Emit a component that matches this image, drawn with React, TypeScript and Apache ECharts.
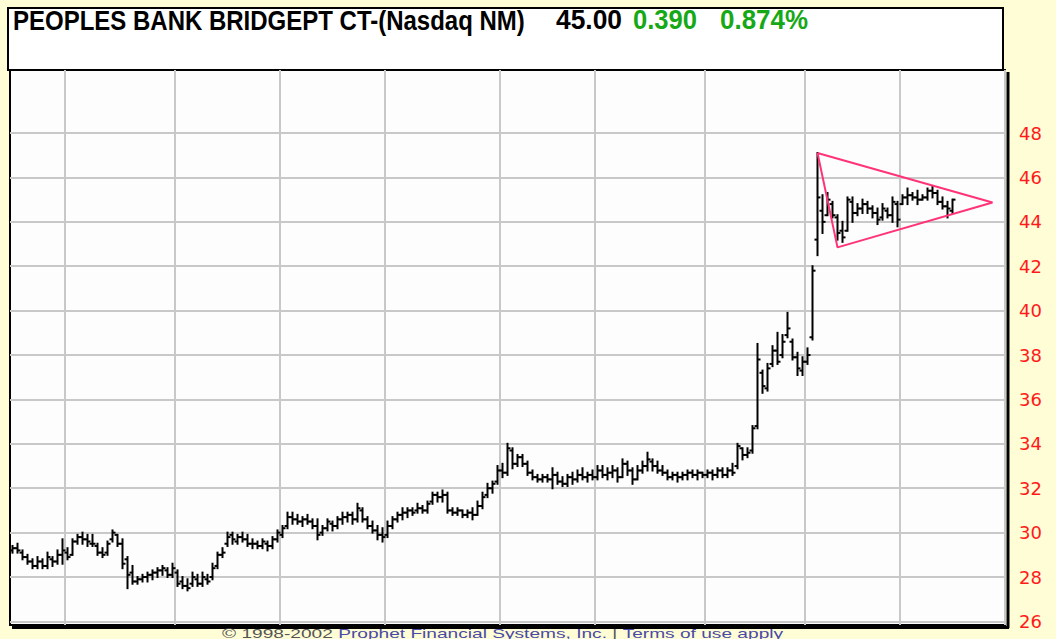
import React, { useEffect, useRef } from "react";
import * as echarts from "echarts";

// Daily OHLC bars (index = trading day)
const opens = [
  29.2, 29.3, 29.1, 28.9, 28.7, 28.5, 28.7, 28.5, 28.8, 28.7,
  29.0, 29.1, 29.0, 29.6, 29.8, 29.7, 29.5, 29.4, 29.1, 29.1,
  29.7, 29.9, 29.5, 28.8, 28.2, 27.8, 27.9, 28.0, 28.1, 28.2,
  28.3, 28.3, 28.1, 28.2, 27.8, 27.6, 27.7, 27.9, 27.7, 27.9,
  28.0, 28.5, 29.0, 29.5, 29.9, 29.6, 29.8, 29.7, 29.5, 29.5,
  29.4, 29.5, 29.4, 29.7, 29.9, 30.3, 30.7, 30.6, 30.5, 30.6,
  30.5, 30.3, 30.0, 30.2, 30.4, 30.3, 30.6, 30.7, 30.8, 30.6,
  31.0, 30.6, 30.3, 30.1, 29.9, 29.9, 30.3, 30.6, 30.8, 30.9,
  31.0, 31.0, 31.1, 31.0, 31.4, 31.7, 31.6, 31.7, 31.0, 30.9,
  31.0, 30.8, 30.9, 30.8, 31.2, 31.7, 32.0, 32.3, 32.8, 32.7,
  33.7, 33.1, 33.4, 33.1, 32.7, 32.5, 32.4, 32.5, 32.4, 32.6,
  32.3, 32.2, 32.5, 32.4, 32.6, 32.5, 32.6, 32.5, 32.8, 32.6,
  32.7, 32.8, 32.5, 33.1, 32.8, 32.4, 32.8, 33.0, 33.2, 33.0,
  32.8, 32.7, 32.5, 32.6, 32.5, 32.6, 32.7, 32.6, 32.7, 32.6,
  32.7, 32.6, 32.8, 32.6, 32.8, 33.0, 33.8, 33.5, 33.7, 34.8,
  37.2, 36.5, 37.6, 38.2, 38.0, 38.9, 38.6, 37.9, 37.3, 37.7,
  38.8, 43.2, 44.5, 44.3, 44.8, 44.2, 43.6, 43.6, 44.9, 44.4,
  44.6, 44.8, 44.6, 44.4, 44.2, 44.5, 44.3, 44.8, 44.8, 45.1,
  45.2, 45.1, 45.0, 45.1, 45.4, 45.3, 44.9, 44.7, 44.5,
];
const highs = [
  29.4, 29.5, 29.2, 29.0, 28.8, 28.9, 28.8, 29.1, 28.9, 29.2,
  29.7, 29.3, 29.7, 29.9, 30.0, 29.9, 29.9, 29.5, 29.3, 29.6,
  30.1, 29.9, 29.7, 28.9, 28.5, 28.0, 28.1, 28.2, 28.3, 28.4,
  28.5, 28.4, 28.6, 28.3, 28.0, 27.9, 28.2, 28.1, 28.2, 28.1,
  28.6, 29.1, 29.3, 30.0, 30.0, 29.9, 30.0, 29.9, 29.7, 29.6,
  29.7, 29.6, 29.8, 30.1, 30.3, 30.9, 30.9, 30.8, 30.7, 30.8,
  30.6, 30.6, 30.3, 30.6, 30.5, 30.7, 30.9, 30.9, 30.9, 31.3,
  31.1, 30.7, 30.5, 30.3, 30.2, 30.5, 30.7, 30.9, 31.1, 31.1,
  31.1, 31.3, 31.2, 31.4, 31.8, 31.8, 31.9, 31.8, 31.1, 31.1,
  31.0, 31.0, 31.1, 31.4, 31.8, 32.2, 32.3, 33.0, 33.1, 34.0,
  33.8, 33.5, 33.5, 33.2, 32.8, 32.6, 32.6, 32.6, 32.9, 32.7,
  32.5, 32.6, 32.7, 32.8, 32.9, 32.7, 32.8, 33.0, 33.0, 32.9,
  33.0, 32.9, 33.3, 33.2, 32.9, 33.0, 33.2, 33.6, 33.3, 33.2,
  33.0, 32.8, 32.7, 32.7, 32.7, 32.8, 32.8, 32.8, 32.7, 32.8,
  32.8, 32.9, 32.9, 32.9, 33.1, 34.0, 33.8, 33.8, 34.8, 38.5,
  37.3, 37.6, 38.4, 39.0, 38.9, 39.9, 38.7, 38.1, 37.9, 38.3,
  42.0, 47.1, 45.2, 45.3, 44.9, 44.3, 44.0, 45.1, 45.1, 44.8,
  45.0, 44.9, 44.7, 44.6, 44.8, 44.6, 45.1, 44.9, 45.2, 45.5,
  45.3, 45.4, 45.2, 45.5, 45.6, 45.4, 45.1, 44.9, 45.0,
];
const lows = [
  29.1, 29.1, 28.8, 28.6, 28.4, 28.4, 28.4, 28.4, 28.5, 28.6,
  28.6, 28.8, 29.0, 29.5, 29.5, 29.4, 29.4, 29.0, 28.9, 29.0,
  29.6, 29.4, 28.4, 27.5, 27.7, 27.7, 27.8, 27.8, 27.9, 28.0,
  28.1, 28.0, 28.0, 27.6, 27.5, 27.4, 27.6, 27.6, 27.6, 27.7,
  27.9, 28.4, 28.9, 29.4, 29.5, 29.5, 29.6, 29.4, 29.3, 29.3,
  29.3, 29.2, 29.3, 29.6, 29.8, 30.2, 30.4, 30.4, 30.3, 30.4,
  30.2, 29.7, 29.9, 30.1, 30.1, 30.2, 30.4, 30.5, 30.4, 30.5,
  30.5, 30.2, 30.0, 29.7, 29.6, 29.8, 30.2, 30.5, 30.6, 30.7,
  30.8, 30.9, 30.9, 30.9, 31.3, 31.4, 31.4, 30.9, 30.8, 30.8,
  30.7, 30.7, 30.6, 30.8, 31.1, 31.6, 31.8, 32.2, 32.5, 32.6,
  32.9, 33.0, 33.0, 32.6, 32.4, 32.3, 32.3, 32.3, 32.0, 32.2,
  32.1, 32.1, 32.2, 32.3, 32.4, 32.3, 32.4, 32.4, 32.5, 32.4,
  32.5, 32.3, 32.5, 32.6, 32.2, 32.4, 32.7, 32.8, 32.8, 32.7,
  32.6, 32.4, 32.4, 32.3, 32.4, 32.4, 32.5, 32.4, 32.5, 32.5,
  32.4, 32.5, 32.5, 32.5, 32.6, 32.9, 33.3, 33.4, 33.6, 34.7,
  36.3, 36.4, 37.5, 37.6, 37.9, 38.8, 37.8, 37.1, 37.1, 37.6,
  38.7, 42.5, 43.5, 44.3, 44.2, 43.2, 43.1, 43.6, 44.0, 44.3,
  44.4, 44.4, 44.2, 43.9, 44.1, 44.2, 44.0, 43.8, 44.8, 44.8,
  45.0, 44.8, 45.0, 45.0, 45.1, 44.8, 44.6, 44.2, 44.4,
];
const closes = [
  29.3, 29.2, 28.9, 28.7, 28.5, 28.7, 28.5, 28.9, 28.7, 29.0,
  29.2, 28.9, 29.6, 29.8, 29.7, 29.6, 29.5, 29.1, 29.0, 29.5,
  30.0, 29.5, 28.6, 28.1, 27.8, 27.9, 28.0, 28.1, 28.2, 28.3,
  28.4, 28.1, 28.4, 27.7, 27.6, 27.5, 28.0, 27.7, 28.0, 27.8,
  28.4, 29.0, 29.1, 29.8, 29.7, 29.8, 29.7, 29.5, 29.5, 29.4,
  29.6, 29.4, 29.7, 30.0, 30.2, 30.7, 30.6, 30.5, 30.6, 30.5,
  30.3, 29.9, 30.2, 30.5, 30.3, 30.6, 30.7, 30.8, 30.6, 31.1,
  30.6, 30.3, 30.1, 29.9, 29.8, 30.3, 30.6, 30.8, 30.9, 31.0,
  30.9, 31.1, 31.0, 31.3, 31.7, 31.6, 31.7, 31.0, 30.9, 31.0,
  30.8, 30.9, 30.8, 31.2, 31.6, 32.0, 32.2, 32.8, 32.7, 33.8,
  33.1, 33.4, 33.1, 32.7, 32.5, 32.4, 32.5, 32.4, 32.6, 32.3,
  32.2, 32.5, 32.4, 32.6, 32.5, 32.6, 32.5, 32.8, 32.6, 32.7,
  32.8, 32.5, 33.1, 32.8, 32.4, 32.8, 33.0, 33.3, 33.0, 32.8,
  32.7, 32.5, 32.6, 32.5, 32.6, 32.7, 32.6, 32.7, 32.6, 32.7,
  32.6, 32.8, 32.6, 32.8, 32.7, 33.9, 33.5, 33.6, 34.7, 37.8,
  36.6, 37.4, 38.2, 37.7, 38.6, 39.2, 37.9, 37.4, 37.7, 38.0,
  41.8, 45.1, 44.0, 45.0, 44.3, 43.5, 43.3, 45.0, 44.4, 44.6,
  44.8, 44.6, 44.4, 44.1, 44.6, 44.3, 44.9, 44.1, 45.1, 45.2,
  45.1, 45.0, 45.1, 45.4, 45.3, 44.9, 44.7, 44.6, 45.0,
];

const yTicks = [26, 28, 30, 32, 34, 36, 38, 40, 42, 44, 46, 48];
const monthStarts = [11, 33, 54, 75, 98, 117, 139, 159, 178];
const slotCount = 199;
const triangleX = [161, 196, 165, 161];
const triangleY = [47.1, 44.87, 42.85, 47.1];

const titleName = "PEOPLES BANK BRIDGEPT CT-(Nasdaq NM)";
const lastPrice = "45.00";
const change = "0.390";
const changePct = "0.874%";
const footerLead = "© 1998-2002 ";
const footerCompany = "Prophet Financial Systems, Inc.";
const footerSep = " | ";
const footerTerms = "Terms of use apply";

function measure(text: string, font: string): number {
  const ctx = document.createElement("canvas").getContext("2d");
  if (!ctx) return text.length * 10;
  ctx.font = font;
  return ctx.measureText(text).width;
}

export default function App() {
  const ref = useRef<HTMLDivElement>(null);

  useEffect(() => {
    document.body.style.margin = "0";
    const chart = echarts.init(ref.current as HTMLDivElement, null, { renderer: "svg" });
    const slots = Array.from({ length: slotCount }, (_, i) => String(i));
    const ohlc = opens.map((o, i) => [i, o, closes[i], lows[i], highs[i]]);
    const tri = triangleX.map((x, i) => [x, triangleY[i]]);
    const titleFont = 'bold 27px "Liberation Sans", Arial, sans-serif';
    const footFont = '13px "Liberation Sans", Arial, sans-serif';

    const headText = (text: string, x: number, w: number, fill: string) => ({
      type: "text",
      silent: true,
      x,
      y: 20,
      scaleX: w / measure(text, titleFont),
      style: { text, font: titleFont, fill, verticalAlign: "middle" },
    });

    const footerFull = footerLead + footerCompany + footerSep + footerTerms;
    const footScale = 561 / measure(footerFull, footFont);

    chart.setOption({
      animation: false,
      backgroundColor: "#FFFDD5",
      grid: {
        left: 10,
        top: 70,
        width: 995,
        height: 555,
        show: true,
        backgroundColor: "#FDFDFD",
        borderColor: "#000",
        borderWidth: 2,
      },
      xAxis: {
        type: "category",
        data: slots,
        boundaryGap: true,
        axisLine: { show: false },
        axisTick: { show: false },
        axisLabel: { show: false },
        splitLine: {
          show: true,
          interval: (index: number) => monthStarts.includes(index),
          lineStyle: { color: "#C8C8C8", width: 2 },
        },
      },
      yAxis: {
        type: "value",
        position: "right",
        min: 25.84,
        max: 50.84,
        axisLine: { show: false },
        axisTick: { show: false, customValues: yTicks },
        axisLabel: {
          customValues: yTicks,
          color: "#FF1A1A",
          fontSize: 18,
          fontFamily: "DejaVu Sans",
          margin: 14,
        },
        splitLine: { show: true, lineStyle: { color: "#C8C8C8", width: 2 } },
      },
      series: [
        {
          type: "custom",
          data: ohlc,
          encode: { x: 0, y: [1, 2, 3, 4] },
          clip: true,
          renderItem: (params: any, api: any) => {
            const x = api.value(0);
            const pO = api.coord([x, api.value(1)]);
            const pC = api.coord([x, api.value(2)]);
            const pL = api.coord([x, api.value(3)]);
            const pH = api.coord([x, api.value(4)]);
            const cx = pH[0];
            const st = { stroke: "#000", lineWidth: 2 };
            return {
              type: "group",
              children: [
                { type: "line", shape: { x1: cx, y1: pH[1] - 1, x2: cx, y2: pL[1] + 1 }, style: st },
                { type: "line", shape: { x1: cx - 3, y1: pO[1], x2: cx, y2: pO[1] }, style: st },
                { type: "line", shape: { x1: cx, y1: pC[1], x2: cx + 3, y2: pC[1] }, style: st },
              ],
            };
          },
        },
        {
          type: "line",
          data: tri,
          symbol: "none",
          lineStyle: { color: "#FF3377", width: 2 },
          z: 3,
        },
      ],
      graphic: [
        {
          type: "rect",
          silent: true,
          shape: { x: 8, y: 8, width: 995, height: 62 },
          style: { fill: "#FFFFFF", stroke: "#000", lineWidth: 2 },
          z: 0,
        },
        {
          type: "line",
          silent: true,
          shape: { x1: 1008, y1: 72, x2: 1008, y2: 628 },
          style: { stroke: "#000", lineWidth: 3 },
        },
        {
          type: "line",
          silent: true,
          shape: { x1: 12, y1: 627.5, x2: 1009, y2: 627.5 },
          style: { stroke: "#000", lineWidth: 3 },
        },
        headText(titleName, 13, 512, "#000"),
        headText(lastPrice, 556, 66, "#000"),
        headText(change, 633, 64, "#16A816"),
        headText(changePct, 720, 88, "#16A816"),
        {
          type: "text",
          silent: true,
          x: 222,
          y: 639,
          scaleX: footScale,
          style: {
            text: `{a|${footerLead}}{b|${footerCompany}}{a|${footerSep}}{b|${footerTerms}}`,
            verticalAlign: "bottom",
            rich: {
              a: { fill: "#555555", fontSize: 13, fontFamily: "Liberation Sans", lineHeight: 12 },
              b: { fill: "#4A4AA8", fontSize: 13, fontFamily: "Liberation Sans", lineHeight: 12 },
            },
          },
        },
      ],
    });
    return () => chart.dispose();
  }, []);

  return (
    <div
      ref={ref}
      style={{ position: "fixed", left: 0, top: 0, width: 1056, height: 639, background: "#FFFDD5" }}
    />
  );
}
